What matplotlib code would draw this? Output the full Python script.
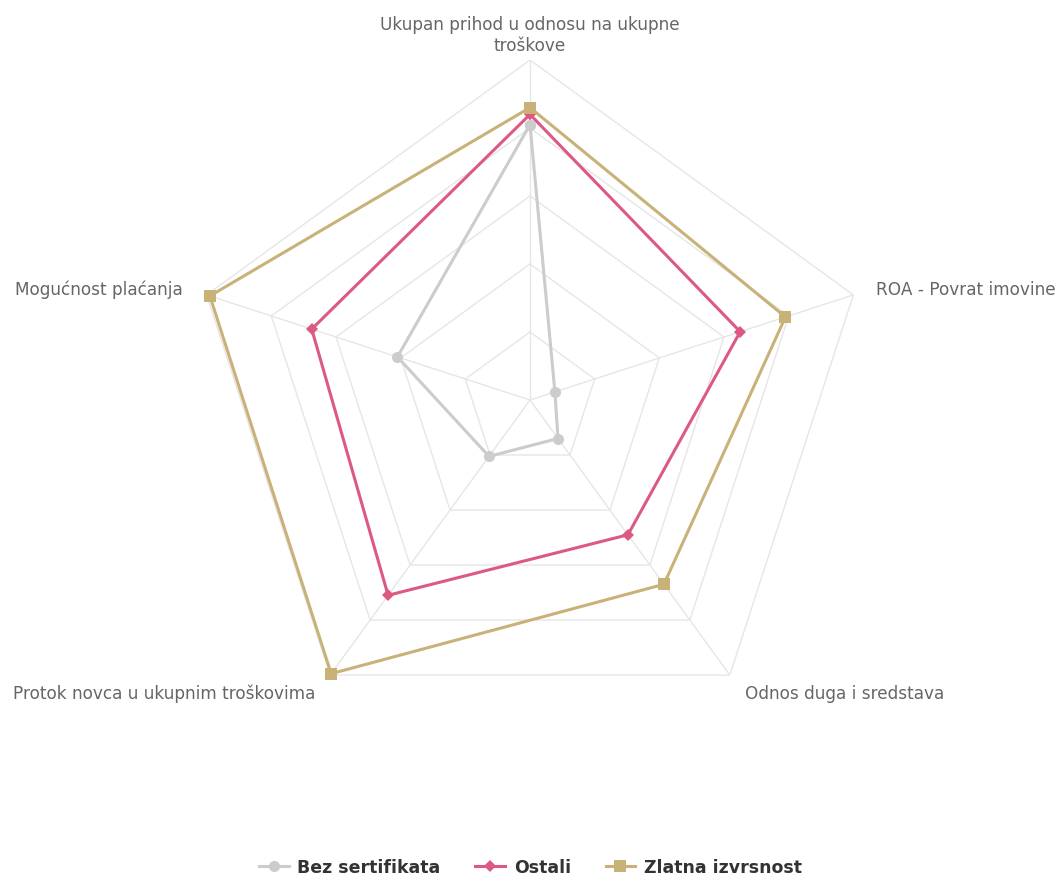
import numpy as np
import matplotlib
matplotlib.use("Agg")
import matplotlib.pyplot as plt

plt.rcParams['font.family'] = ['DejaVu Sans']

# podaci
kategorije = ["Ukupan prihod u odnosu na ukupne\ntroškove", "ROA - Povrat imovine",
              "Odnos duga i sredstava", "Protok novca u ukupnim troškovima",
              "Mogućnost plaćanja"]
bez_sertifikata = [81, 7.7, 14, 20.5, 41]
ostali = [84, 65, 49, 71, 67.5]
zlatna_izvrsnost = [86, 79, 67, 99.5, 99]
serije = ["Bez sertifikata", "Ostali", "Zlatna izvrsnost"]
nivoi = [20, 40, 60, 80, 100]

boje = ["#cccccc", "#dc5a82", "#c8b278"]
markeri = ["o", "D", "s"]
vel_markera = [8, 6, 8]

n = len(kategorije)
uglovi = np.linspace(0, 2 * np.pi, n, endpoint=False)
uglovi_z = np.concatenate([uglovi, uglovi[:1]])

fig = plt.figure(figsize=(10.61, 8.78), dpi=100)
ax = fig.add_axes([190 / 1061, 137 / 878, 680 / 1061, 680 / 878], projection="polar")
ax.set_theta_offset(np.pi / 2)
ax.set_theta_direction(-1)
ax.set_ylim(0, 100)
ax.grid(False)
ax.spines["polar"].set_visible(False)
ax.set_xticks([])
ax.set_yticks([])

# mreza (petouglovi)
for nv in nivoi:
    ax.plot(uglovi_z, [nv] * (n + 1), color="#e6e6e6", lw=1, zorder=1)
for u in uglovi:
    ax.plot([u, u], [0, 100], color="#e6e6e6", lw=1, zorder=1)

# serije
for vrijednosti, ime, boja, m, ms in zip([bez_sertifikata, ostali, zlatna_izvrsnost],
                                         serije, boje, markeri, vel_markera):
    v = vrijednosti + vrijednosti[:1]
    ax.plot(uglovi_z, v, color=boja, lw=2.2, marker=m, markersize=ms,
            markeredgewidth=0, label=ime, zorder=3, clip_on=False)

# natpisi osa
pomaci = [(0, 6), (23, 6), (15, -18), (-15, -18), (-24, 6)]
poravnanja = [("center", "bottom"), ("left", "center"), ("left", "center"),
              ("right", "center"), ("right", "center")]
for u, txt, (dx, dy), (ha, va) in zip(uglovi, kategorije, pomaci, poravnanja):
    ax.annotate(txt, xy=(u, 100), xytext=(dx * 0.72, dy * 0.72),
                textcoords="offset points", ha=ha, va=va, fontsize=12.2,
                color="#666666", linespacing=1.25, annotation_clip=False)

leg = fig.legend(loc="center", bbox_to_anchor=(0.5, 10 / 878), ncol=3,
                 frameon=False, handlelength=1.7, columnspacing=2.0,
                 handletextpad=0.5, prop={"size": 12.5, "weight": "bold"})
for t in leg.get_texts():
    t.set_color("#333333")

fig.savefig("out.png", dpi=100, facecolor="white")
